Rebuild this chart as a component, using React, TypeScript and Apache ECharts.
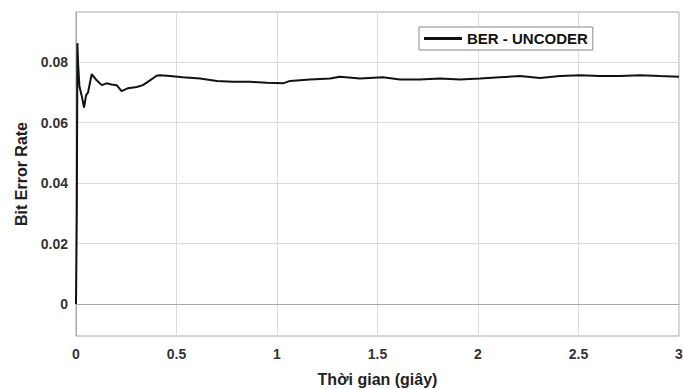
import React, { useEffect, useRef } from "react";
import * as echarts from "echarts";

const timeSec = [
  0, 0.004, 0.007, 0.01, 0.017, 0.028, 0.04, 0.05, 0.06, 0.078, 0.103, 0.128, 0.152, 0.177,
  0.202, 0.227, 0.259, 0.302, 0.333, 0.368, 0.401, 0.418, 0.468, 0.532, 0.617, 0.701, 0.781,
  0.866, 0.95, 1.03, 1.065, 1.164, 1.264, 1.313, 1.413, 1.527, 1.612, 1.711, 1.811, 1.91,
  2.01, 2.109, 2.209, 2.308, 2.408, 2.507, 2.607, 2.706, 2.806, 2.905, 3.0,
];
const berUncoder = [
  0, 0.03, 0.0863, 0.08, 0.072, 0.069, 0.065, 0.069, 0.07, 0.076, 0.074, 0.0724, 0.073, 0.0726,
  0.0724, 0.0704, 0.0714, 0.0718, 0.0724, 0.074, 0.0755, 0.0757, 0.0754, 0.075, 0.0746, 0.0738,
  0.0735, 0.0735, 0.0732, 0.073, 0.0738, 0.0743, 0.0746, 0.0752, 0.0746, 0.075, 0.0743, 0.0743,
  0.0746, 0.0743, 0.0746, 0.075, 0.0754, 0.0748, 0.0754, 0.0757, 0.0754, 0.0754, 0.0757, 0.0754,
  0.0752,
];
const yTicks = [0, 0.02, 0.04, 0.06, 0.08];
const seriesName = "BER - UNCODER";
const xTitle = "Thời gian (giây)";
const yTitle = "Bit Error Rate";

export default function App() {
  const ref = useRef<HTMLDivElement>(null);
  useEffect(() => {
    if (!ref.current) return;
    const chart = echarts.init(ref.current, undefined, { renderer: "svg" });
    const font = "'Liberation Sans', Arial, sans-serif";
    chart.setOption({
      animation: false,
      backgroundColor: "#ffffff",
      textStyle: { fontFamily: font },
      grid: {
        left: 76,
        right: 4,
        top: 12,
        bottom: 53,
        containLabel: false,
        outerBoundsMode: "none",
        show: true,
        borderColor: "#a8a8a8",
        borderWidth: 1,
        backgroundColor: "#ffffff",
      },
      legend: {
        left: 419,
        top: 27,
        data: [{ name: seriesName, icon: "rect" }],
        itemWidth: 38,
        itemHeight: 3,
        itemGap: 6,
        padding: [4, 5, 4, 5],
        borderColor: "#888888",
        borderWidth: 1,
        backgroundColor: "#ffffff",
        textStyle: { color: "#111111", fontWeight: "bold", fontSize: 15, fontFamily: font },
      },
      xAxis: {
        type: "value",
        min: 0,
        max: 3,
        interval: 0.5,
        name: xTitle,
        nameLocation: "middle",
        nameGap: 35,
        nameTextStyle: { color: "#222222", fontWeight: "bold", fontSize: 16, fontFamily: font },
        axisLine: { show: true, lineStyle: { color: "#a8a8a8", width: 1 } },
        axisTick: { show: false },
        axisLabel: { color: "#333333", fontWeight: "bold", fontSize: 14, margin: 11, fontFamily: font },
        splitLine: { show: true, lineStyle: { color: "#dcdcdc", width: 1 } },
      },
      yAxis: {
        type: "value",
        min: -0.0106,
        max: 0.0966,
        name: yTitle,
        nameLocation: "middle",
        nameGap: 44,
        nameTextStyle: { color: "#222222", fontWeight: "bold", fontSize: 16, fontFamily: font },
        axisLine: { show: true, lineStyle: { color: "#a8a8a8", width: 1 } },
        axisTick: { show: false, customValues: yTicks },
        axisLabel: {
          customValues: yTicks,
          color: "#333333",
          fontWeight: "bold",
          fontSize: 14,
          margin: 8,
          fontFamily: font,
          formatter: (v: number) => String(Number(v.toFixed(2))),
        },
        splitLine: { show: true, lineStyle: { color: "#dcdcdc", width: 1 } },
      },
      series: [
        {
          name: seriesName,
          type: "line",
          data: timeSec.map((t, i) => [t, berUncoder[i]]),
          showSymbol: false,
          symbol: "none",
          lineStyle: { color: "#111111", width: 2 },
          itemStyle: { color: "#111111" },
        },
      ],
    });
    return () => chart.dispose();
  }, []);
  return (
    <div
      ref={ref}
      style={{ position: "absolute", left: 0, top: 0, width: 683, height: 389 }}
    />
  );
}
